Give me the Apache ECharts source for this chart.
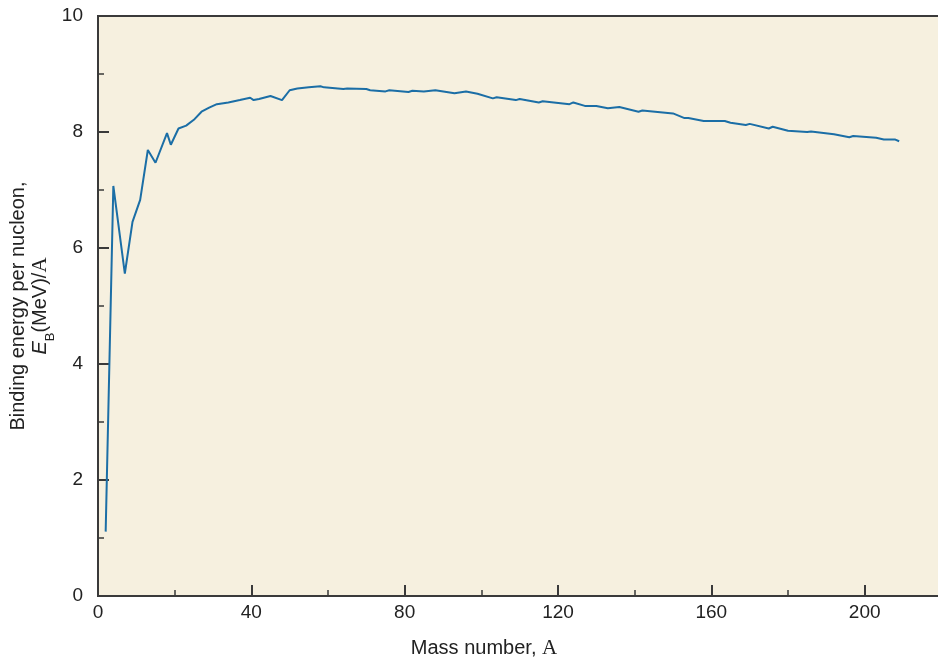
<!DOCTYPE html>
<html>
<head>
<meta charset="utf-8">
<script src="https://cdn.jsdelivr.net/npm/echarts@6/dist/echarts.min.js"></script>
<style>
html,body{margin:0;padding:0;background:#fff;}
#chart{width:938px;height:657px;}
</style>
</head>
<body>
<div id="chart"></div>
<script>
// Mass number A
var massNumber = [2,4,7,9,11,13,15,18,19,21,23,25,27,29,31,34,37,39.7,40.6,42,45,48,50,52,55,58,59,64,65,70,71,75,76,81,82,85,88,93,96,99,103,104,109,110,115,116,123,124,127,130,133,136,141,142,150,153,154,158,163.5,165,169,170,175,176,180,185,186,192,192.5,196,197,203,205,208,209];
// Binding energy per nucleon (MeV)
var bindingEnergy = [1.11,7.07,5.56,6.45,6.83,7.69,7.47,7.98,7.78,8.06,8.11,8.21,8.35,8.42,8.48,8.51,8.55,8.59,8.55,8.57,8.62,8.55,8.72,8.75,8.77,8.79,8.77,8.74,8.75,8.74,8.72,8.70,8.72,8.69,8.71,8.70,8.72,8.67,8.70,8.66,8.58,8.60,8.55,8.57,8.51,8.53,8.48,8.51,8.45,8.45,8.41,8.43,8.35,8.37,8.32,8.24,8.24,8.19,8.19,8.16,8.12,8.14,8.06,8.09,8.02,8.00,8.01,7.96,7.94,7.91,7.93,7.90,7.87,7.87,7.84];
var xTicks = [0,40,80,120,160,200];
var yTicks = [0,2,4,6,8,10];

var points = massNumber.map(function(a,i){return [a, bindingEnergy[i]];});
var sans = "'Liberation Sans', Arial, sans-serif";
var serif = "'Liberation Serif', 'Times New Roman', serif";
var axisCol = '#3a3a3a';

var chart = echarts.init(document.getElementById('chart'), null, {renderer:'canvas'});
chart.setOption({
  animation:false,
  backgroundColor:'#ffffff',
  grid:{left:98, width:920, top:16, bottom:61, outerBoundsMode:'none', containLabel:false,
        show:true, backgroundColor:'#F6F0DF', borderColor:axisCol, borderWidth:2},
  xAxis:{
    type:'value', min:0, max:240, interval:40,
    name:'{t|Mass number, }{s|A}', nameLocation:'middle', nameGap:42,
    nameTextStyle:{padding:[0,148,0,0],rich:{t:{fontFamily:sans,fontSize:20,color:'#222'},s:{fontFamily:serif,fontSize:21,color:'#222'}}},
    axisLine:{show:true,lineStyle:{color:axisCol,width:2}},
    axisTick:{show:true,inside:true,length:11,lineStyle:{color:axisCol,width:2}},
    minorTick:{show:true,splitNumber:2,length:6,lineStyle:{color:axisCol,width:1.5}},
    splitLine:{show:false},
    axisLabel:{margin:7,fontFamily:sans,fontSize:19,color:'#222',
      formatter:function(v){return xTicks.indexOf(v)>=0?String(v):'';}}
  },
  yAxis:{
    type:'value', min:0, max:10, interval:2,
    name:'{a|Binding energy per nucleon,}\n{e|E}{b|B}{a|(MeV)/}{s|A}', nameLocation:'middle', nameGap:47,
    nameMoveOverlap:false,
    nameTextStyle:{rich:{
      a:{fontFamily:sans,fontSize:20,color:'#222',lineHeight:22},
      e:{fontFamily:sans,fontSize:20,fontStyle:'italic',color:'#222',lineHeight:22},
      b:{fontFamily:sans,fontSize:13,color:'#222',verticalAlign:'bottom',lineHeight:22,padding:[0,0,-6,0]},
      s:{fontFamily:serif,fontSize:21,color:'#222',lineHeight:22}
    }},
    axisLine:{show:true,lineStyle:{color:axisCol,width:2}},
    axisTick:{show:true,inside:true,length:11,lineStyle:{color:axisCol,width:2}},
    minorTick:{show:true,splitNumber:2,length:6,lineStyle:{color:axisCol,width:1.5}},
    splitLine:{show:false},
    axisLabel:{margin:15,fontFamily:sans,fontSize:19,color:'#222',
      formatter:function(v){return yTicks.indexOf(v)>=0?String(v):'';}}
  },
  series:[{
    type:'line', data:points, showSymbol:false, smooth:false,
    lineStyle:{color:'#1B6EA6',width:2}
  }]
});
</script>
</body>
</html>
